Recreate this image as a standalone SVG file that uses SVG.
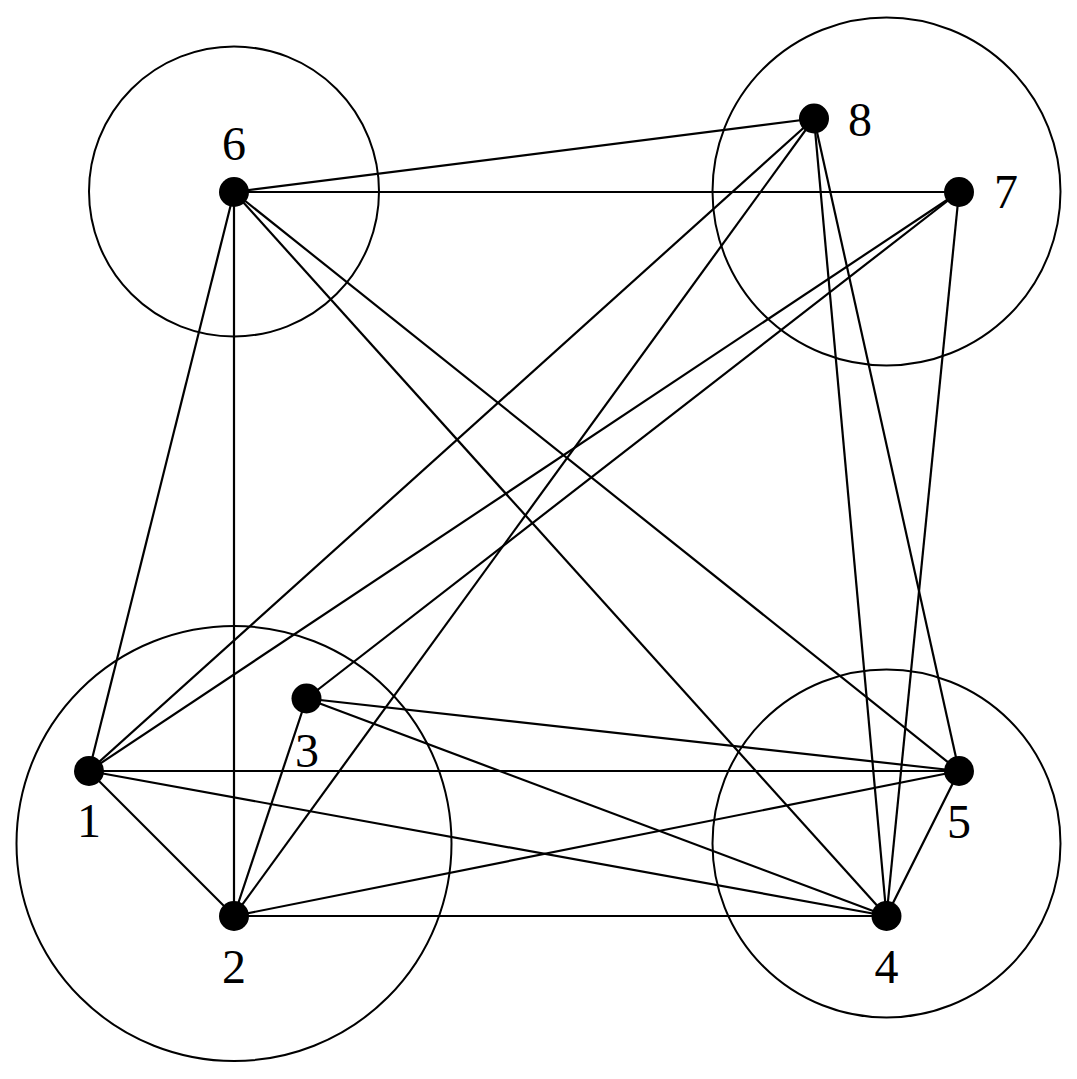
<svg xmlns="http://www.w3.org/2000/svg" width="1077" height="1079" viewBox="0 0 1077 1079">
<style>
.c{fill:none;stroke:#000;stroke-width:2}
.e line{stroke:#000;stroke-width:2.2}
.n{fill:#000}
.t{font-family:"Liberation Serif","DejaVu Serif",serif;font-size:48px;text-anchor:middle;fill:#000}
</style>
<rect width="1077" height="1079" fill="#fff"/>
<g id="regions">
<circle class="c" cx="234" cy="191.5" r="145"/>
<circle class="c" cx="886.5" cy="191.5" r="174"/>
<circle class="c" cx="234" cy="843.5" r="217.5"/>
<circle class="c" cx="886.5" cy="843.5" r="174"/>
</g>
<g id="connectors" class="e">
<line x1="234" y1="192" x2="814" y2="118.5"/>
<line x1="234" y1="192" x2="959" y2="192"/>
<line x1="234" y1="192" x2="234" y2="916"/>
<line x1="234" y1="192" x2="89" y2="771"/>
<line x1="234" y1="192" x2="886.5" y2="916"/>
<line x1="234" y1="192" x2="959" y2="771"/>
<line x1="814" y1="118.5" x2="89" y2="771"/>
<line x1="814" y1="118.5" x2="234" y2="916"/>
<line x1="814" y1="118.5" x2="886.5" y2="916"/>
<line x1="814" y1="118.5" x2="959" y2="771"/>
<line x1="959" y1="192" x2="89" y2="771"/>
<line x1="959" y1="192" x2="306.5" y2="698.5"/>
<line x1="959" y1="192" x2="886.5" y2="916"/>
<line x1="306.5" y1="698.5" x2="959" y2="771"/>
<line x1="306.5" y1="698.5" x2="886.5" y2="916"/>
<line x1="306.5" y1="698.5" x2="234" y2="916"/>
<line x1="89" y1="771" x2="959" y2="771"/>
<line x1="89" y1="771" x2="886.5" y2="916"/>
<line x1="89" y1="771" x2="234" y2="916"/>
<line x1="234" y1="916" x2="959" y2="771"/>
<line x1="234" y1="916" x2="886.5" y2="916"/>
<line x1="959" y1="771" x2="886.5" y2="916"/>
</g>
<g id="node1"><circle class="n" cx="89" cy="771" r="15"/><text class="t" x="89" y="837">1</text></g>
<g id="node2"><circle class="n" cx="234" cy="916" r="15"/><text class="t" x="234" y="983">2</text></g>
<g id="node3"><circle class="n" cx="306.5" cy="698.5" r="15"/><text class="t" x="307" y="767">3</text></g>
<g id="node4"><circle class="n" cx="886.5" cy="916" r="15"/><text class="t" x="886.5" y="983">4</text></g>
<g id="node5"><circle class="n" cx="959" cy="771" r="15"/><text class="t" x="959" y="838">5</text></g>
<g id="node6"><circle class="n" cx="234" cy="192" r="15"/><text class="t" x="234" y="160">6</text></g>
<g id="node7"><circle class="n" cx="959" cy="192" r="15"/><text class="t" x="1006" y="208">7</text></g>
<g id="node8"><circle class="n" cx="814" cy="118.5" r="15"/><text class="t" x="860" y="136">8</text></g>
</svg>
